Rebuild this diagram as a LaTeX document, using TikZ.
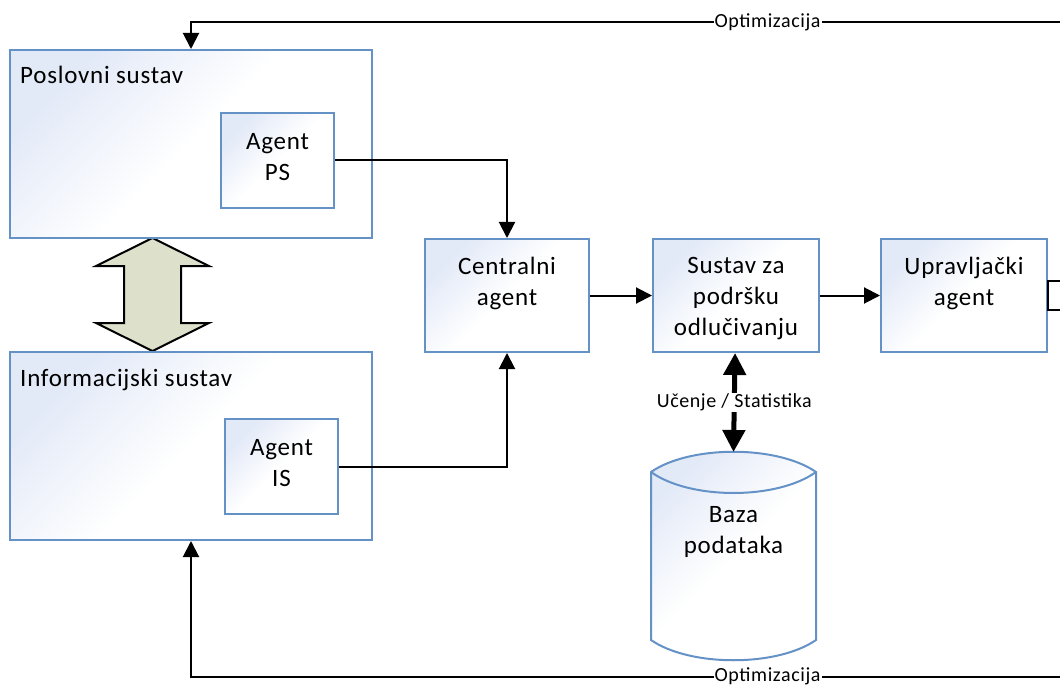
\documentclass[tikz,border=0pt]{standalone}
\usepackage{fontspec}
\setmainfont{Carlito}[LetterSpace=3]
\usetikzlibrary{positioning,arrows.meta,calc}
\definecolor{rubplava}{RGB}{100,146,198}
\definecolor{gradplava}{RGB}{226,233,247}
\definecolor{strelicaboja}{RGB}{221,225,203}
\newcommand{\tekstvelik}{\fontsize{25}{31}\selectfont}
\newcommand{\tekstmali}{\fontsize{20}{24}\selectfont}
\tikzset{
  sjena/.style={top color=gradplava, bottom color=white, middle color=white, shading angle=45},
  sustav/.style={rectangle, draw=rubplava, line width=2pt, sjena, minimum width=362pt, minimum height=188pt},
  agent/.style={rectangle, draw=rubplava, line width=2pt, sjena, minimum width=113pt, minimum height=95pt, align=center, font=\tekstvelik},
  blok/.style={rectangle, draw=rubplava, line width=2pt, sjena, minimum width=165pt, minimum height=113pt, align=center, font=\tekstvelik},
  tekst/.style={align=center, font=\tekstvelik},
  naslov/.style={anchor=base west, font=\tekstvelik, inner sep=0pt},
  veza/.style={line width=2pt, -{Triangle[width=16pt,length=16pt]}},
  baza/.style={line width=5pt, {Triangle[width=22pt,length=22pt]}-{Triangle[width=22pt,length=22pt]}},
  oznaka/.style={fill=white, inner sep=1pt, font=\tekstmali},
  obrub/.style={draw=rubplava, line width=2pt},
  node distance=62pt
}
\begin{document}
\begin{tikzpicture}[x=1pt,y=-1pt]
	\useasboundingbox (0,0) rectangle (1060,687);
	% dvostruka strelica izmedju sustava
	\draw[line width=2pt, fill=strelicaboja] (152.5,238) -- (209,266) -- (181,266) -- (181,323) -- (209,323)
		-- (152.5,351) -- (96,323) -- (124,323) -- (124,266) -- (96,266) -- cycle;
	%
	\node[sustav] (ps) at (191,144) {};
	\node[naslov] (psnaslov) at ([xshift=11pt,yshift=-35pt]ps.north west) {Poslovni sustav};
	\node[agent] (aps) at (277.5,160.5) {};
	\node[tekst] (apstekst) at ([yshift=3pt]aps.center) {Agent\\PS};
	\node[sustav] (is) at (191,446) {};
	\node[naslov] (isnaslov) at ([xshift=11pt,yshift=-35pt]is.north west) {Informacijski sustav};
	\node[agent] (ais) at (281.5,466.5) {};
	\node[tekst] (aistekst) at ([yshift=3pt]ais.center) {Agent\\IS};
	%
	\node[blok, minimum width=164pt] (ca) at (507,295.5) {};
	\node[tekst] (catekst) at ([yshift=12pt]ca.center) {Centralni\\agent};
	\node[blok, minimum width=166pt, right=of ca] (sp) {};
	\node[tekst] (sptekst) at ([yshift=-3pt]sp.center) {Sustav za\\podršku\\odlučivanju};
	\node[blok, minimum width=166pt, right=60pt of sp] (upr) {};
	\node[tekst] (uprtekst) at ([yshift=12pt]upr.center) {Upravljački\\agent};
	% baza podataka
	\draw[obrub, sjena] (651,472) .. controls (690,445) and (777,445) .. (816,472) -- (816,640)
		.. controls (777,667) and (690,667) .. (651,640) -- cycle;
	\draw[obrub] (651,472) .. controls (690,500) and (777,500) .. (816,472);
	\node[tekst] (db) at (733.5,532) {Baza\\podataka};
	\coordinate (dbvrh) at (733.5,452);
	%
	\draw[veza] (aps.east) -| (ca.north);
	\draw[veza] (ais.east) -| (ca.south);
	\draw[veza] (ca) -- (sp);
	\draw[veza] (sp) -- (upr);
	\draw[baza] (sp) -- node[oznaka] (ucenje) {Učenje / Statistika} (dbvrh);
	%\draw[line width=2pt] (upr.east) -- ++(20,0);
	\draw[line width=2pt] ($(upr.east)+(30,-14.5)$) -| ($(upr.east)+(0,14.5)$) -- ++(30,0);
	%
	\coordinate (optgore) at (1062,22);
	\coordinate (optdolje) at (1062,676.5);
	\draw[veza] (optgore) -| node[oznaka, pos=0.169] (opt1) {Optimizacija} (ps.north);
	\draw[veza] (optdolje) -| node[oznaka, pos=0.169] (opt2) {Optimizacija} (is.south);
\end{tikzpicture}
\end{document}
